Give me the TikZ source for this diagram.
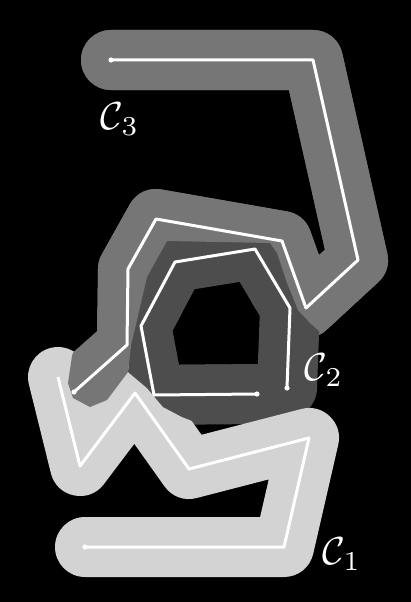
\documentclass[tikz,border=0pt]{standalone}
\definecolor{tubeLight}{HTML}{D3D3D3}
\definecolor{tubeMid}{HTML}{767676}
\definecolor{tubeDark}{HTML}{4D4D4D}

\newcommand{\curveOne}{(58,377) -- (80,466) -- (135,393) -- (189,469) -- (309,438) -- (284,547) -- (85,547)}
\newcommand{\curveTwo}{(287,388) -- (290,308) -- (255,249) -- (175,262) -- (141,326) -- (154,395) -- (257,394)}
\newcommand{\curveThree}{(111,60) -- (313,60) -- (358,260) -- (306,308) -- (282,241) -- (156,219) -- (128,269) -- (127,345) -- (74,392)}

\begin{document}
\begin{tikzpicture}[
    x=1pt, y=-1pt,
    tube/.style={line width=60pt, line cap=round, line join=round},
    spine/.style={white, line width=3pt, line join=round},
    enddot/.style={white, radius=2.6pt},
    lbl/.style={text=white, scale=3.9, inner sep=0pt},
  ]
  \fill[black] (0,0) rectangle (411,602);
  \useasboundingbox (0,0) rectangle (411,602);
  % tubes, back to front
  \draw[tube, tubeMid] \curveThree;
  \draw[tube, tubeDark] \curveTwo;
  % C3 is nearer than C2 here
  \begin{scope}
    \clip (110,430) -- (120,400) -- (128,372) -- (131,345) -- (137,320) -- (147,277)
      -- (167,241) -- (270,243) -- (277,253) -- (287,283) -- (298,310) -- (310,323)
      -- (320,332) -- (345,360) -- (411,360) -- (411,0) -- (0,0) -- (0,430) -- cycle;
    \draw[tube, tubeMid] \curveThree;
  \end{scope}
  \draw[tube, tubeLight] \curveOne;
  % C2 is nearer than C1 here
  \begin{scope}
    \clip (137,320) -- (131,345) -- (128,372) -- (147,388) -- (163,407) -- (182,417)
      -- (200,424) -- (260,300) -- cycle;
    \draw[tube, tubeDark] \curveTwo;
  \end{scope}
  % C3 is nearer than C1 here
  \begin{scope}
    \clip (80,330) -- (72,356) -- (68,383) -- (73,398) -- (90,407) -- (107,400)
      -- (128,372) -- (131,345) -- (137,320) -- (110,300) -- cycle;
    \draw[tube, tubeMid] \curveThree;
  \end{scope}
  % centre lines
  \draw[spine] \curveOne;
  \draw[spine] \curveTwo;
  \draw[spine] \curveThree;
  \fill[enddot] (85,547) circle;
  \fill[enddot] (287,388) circle;
  \fill[enddot] (257,394) circle;
  \fill[enddot] (111,60) circle;
  \fill[enddot] (74,392) circle;
  % labels
  \node[lbl] (c1label) at (342,554) {$\mathcal{C}_1$};
  \node[lbl] (c2label) at (324,370) {$\mathcal{C}_2$};
  \node[lbl] (c3label) at (120,119) {$\mathcal{C}_3$};
\end{tikzpicture}
\end{document}
